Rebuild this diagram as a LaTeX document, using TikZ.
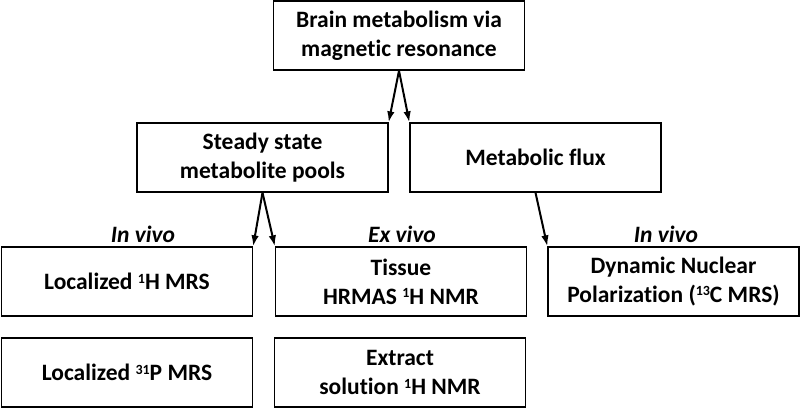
\documentclass[tikz,border=0pt]{standalone}
\usepackage{fontspec}
\setmainfont[Ligatures=NoCommon]{Carlito}
\usetikzlibrary{arrows.meta}

% small mass number in front of an element
\newcommand{\massno}[1]{\raisebox{6.5pt}{\fontsize{14}{14}\selectfont #1}}

\begin{document}
\begin{tikzpicture}[x=1pt,y=1pt,
    box/.style={draw, line width=1.3pt, minimum width=251pt, minimum height=69pt,
        inner sep=0pt, align=center, font=\fontsize{23.5}{29}\selectfont\bfseries},
    link/.style={-{Latex[length=11pt,width=7.5pt]}, line width=2pt},
    site/.style={anchor=base, font=\fontsize{23.5}{28}\selectfont\bfseries\itshape}]
    % Fix the picture size
    \useasboundingbox (0,0) rectangle (800,408);

    % Draw the top box
    \node[box] (brain) at (399,372.5) {Brain metabolism via\\magnetic resonance};

    % Draw the middle boxes
    \node[box] (steady) at (262.5,250.5) {Steady state\\metabolite pools};
    \node[box] (flux) at (535.5,250.5) {Metabolic flux};

    % Draw the method boxes
    \node[box] (loch) at (127,126.5) {Localized \massno{1}H MRS};
    \node[box] (tissue) at (401,126.5) {Tissue\\HRMAS \massno{1}H NMR};
    \node[box] (dnp) at (673.5,126.5) {Dynamic Nuclear\\Polarization (\massno{13}C MRS)};
    \node[box] (locp) at (127,35.5) {Localized \massno{31}P MRS};
    \node[box] (extract) at (400,35.5) {Extract\\solution \massno{1}H NMR};

    % Label the methods
    \node[site] (vivoa) at (143,166) {In vivo};
    \node[site] (exvivo) at (402,166) {Ex vivo};
    \node[site] (vivob) at (666,166) {In vivo};

    % Draw the arrows
    \draw[link] (brain.south) -- (steady.north east);
    \draw[link] (brain.south) -- (flux.north west);
    \draw[link] (steady.south) -- (loch.north east);
    \draw[link] (steady.south) -- (tissue.north west);
    \draw[link] (flux.south) -- (dnp.north west);
\end{tikzpicture}
\end{document}
